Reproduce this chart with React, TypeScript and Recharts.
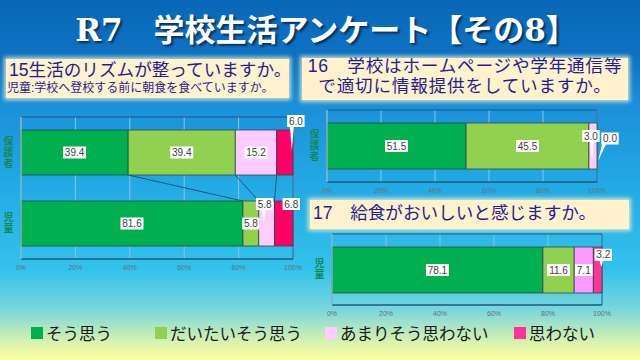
import React from 'react';
import { BarChart, Bar, XAxis, YAxis, CartesianGrid, LabelList, ReferenceArea, ReferenceDot, Customized } from 'recharts';

// ---------- data ----------
const categories15 = ['保護者', '児童'];
const soOmou15 = [39.4, 81.6];
const daitai15 = [39.4, 5.8];
const amari15 = [15.2, 5.8];
const omowanai15 = [6.0, 6.8];

const categories16 = ['保護者'];
const soOmou16 = [51.5];
const daitai16 = [45.5];
const amari16 = [3.0];
const omowanai16 = [0.0];

const categories17 = ['児童'];
const soOmou17 = [78.1];
const daitai17 = [11.6];
const amari17 = [7.1];
const omowanai17 = [3.2];

const percentTicks = [0, 20, 40, 60, 80, 100];
const legendLabels = ['そう思う', 'だいたいそう思う', 'あまりそう思わない', '思わない'];
const seriesKeys = ['s1', 's2', 's3', 's4'];

// ---------- styles ----------
const COLORS15 = ['#00b050', '#92d050', '#ffccff', '#ff0066'];
const COLORS16 = ['#00b050', '#92d050', '#ffccff', '#ff0066'];
const COLORS17 = ['#00b050', '#92d050', '#ff99ff', '#ff3399'];
const LEGEND_COLORS = ['#00b050', '#92d050', '#ffccff', '#ff3399'];
const LEGEND_X = [31, 155, 325, 514];
const FRAME = '#1d5a80';
const JP = '"Noto Sans CJK JP", "Noto Sans", sans-serif';
const BOX_FONT = '"Liberation Sans", "Noto Sans CJK JP", sans-serif';

type Place = { dx: number; dy: number; tip?: [number, number] } | undefined;

const places15: Record<string, Place[]> = {
  s3: [undefined, { dx: -2, dy: -19.5, tip: [-3, 1] }],
  s4: [{ dx: 11, dy: -31.5, tip: [7, -2] }, { dx: 7.5, dy: -19.5 }],
};
const places16: Record<string, Place[]> = {
  s3: [{ dx: -2, dy: -10, tip: [-1, 14] }],
  s4: [{ dx: 13, dy: -7.5, tip: [1, 15] }],
};
const places17: Record<string, Place[]> = {
  s4: [{ dx: 5.6, dy: -15.2, tip: [3.6, -3] }],
};

type Geo = {
  left: number; top: number; width: number; height: number;
  margin: { top: number; right: number; bottom: number; left: number };
  yAxisWidth: number; xAxisHeight: number; barSize: number;
};

const GEO15: Geo = { left: 0, top: 105, width: 310, height: 175, margin: { top: 12, right: 17, bottom: 4, left: 3 }, yAxisWidth: 18, xAxisHeight: 17, barSize: 45 };
const GEO16: Geo = { left: 305, top: 100, width: 320, height: 100, margin: { top: 10, right: 28, bottom: 2, left: 2 }, yAxisWidth: 20, xAxisHeight: 16, barSize: 46 };
const GEO17: Geo = { left: 305, top: 224, width: 325, height: 97, margin: { top: 10, right: 28, bottom: 2, left: 5 }, yAxisWidth: 22, xAxisHeight: 14, barSize: 46 };

function buildRows(cats: string[], a: number[], b: number[], c: number[], d: number[]) {
  return cats.map((name, i) => ({ name, s1: a[i], s2: b[i], s3: c[i], s4: d[i] }));
}

const rows15 = buildRows(categories15, soOmou15, daitai15, amari15, omowanai15);
const rows16 = buildRows(categories16, soOmou16, daitai16, amari16, omowanai16);
const rows17 = buildRows(categories17, soOmou17, daitai17, amari17, omowanai17);

function textWidth(s: string, fs: number) {
  let w = 0;
  for (const ch of s) w += ch === '.' ? 0.278 * fs : 0.556 * fs;
  return w;
}

function drawLabel(segCx: number, segCy: number, value: number, p: Place) {
  const text = value.toFixed(1);
  const cx = segCx + (p ? p.dx : 0);
  const cy = segCy + (p ? p.dy : 0);
  const fs = 10;
  const bw = textWidth(text, fs) + 3.5;
  const bh = 12;
  const left = cx - bw / 2;
  const bottom = cy + bh / 2;
  let tail = null;
  if (p && p.tip) {
    const tx = segCx + p.tip[0];
    const ty = segCy + p.tip[1];
    const bx = Math.min(Math.max(tx - 2, left + 1), left + bw - 5);
    tail = <polygon points={`${bx},${bottom - 1} ${bx + 4},${bottom - 1} ${tx},${ty}`} fill="#ffffff" />;
  }
  return (
    <g>
      {tail}
      <rect x={left} y={cy - bh / 2} width={bw} height={bh} fill="#ffffff" />
      <text x={cx} y={cy} dy="0.36em" textAnchor="middle" fontSize={fs} fill="#404040" fontFamily='"Liberation Sans", Arial, sans-serif'>{text}</text>
    </g>
  );
}

const makeLabel = (places?: Place[]) => (props: any) => {
  const vb = props.viewBox || {};
  const x = Number(props.x ?? vb.x);
  const y = Number(props.y ?? vb.y);
  const w = Number(props.width ?? vb.width ?? 0);
  const h = Number(props.height ?? vb.height ?? 0);
  const idx = props.index ?? 0;
  const value = Number(props.value);
  if (!isFinite(x) || !isFinite(y) || !isFinite(value)) return null;
  if (value === 0) return null; // zero values drawn with ReferenceDot
  return drawLabel(x + w / 2, y + h / 2, value, places ? places[idx] : undefined);
};

const VerticalTick = (props: any) => {
  const { x, y, payload } = props;
  const label = String(payload?.value ?? '');
  const tx = x - 12.5;
  return (
    <text
      x={tx}
      y={y}
      textAnchor="middle"
      fontSize={10}
      fontWeight="bold"
      fill="#138a55"
      fontFamily={JP}
      letterSpacing={1}
      style={{ writingMode: 'vertical-rl' } as React.CSSProperties}
    >
      {label}
    </text>
  );
};

function cumulative(vals: number[]) {
  const out: number[] = [];
  let s = 0;
  for (let i = 0; i < vals.length - 1; i++) { s += vals[i]; out.push(s); }
  return out;
}

const SeriesLines = ({ geo }: { geo: Geo }) => {
  const plotLeft = geo.margin.left + geo.yAxisWidth;
  const plotWidth = geo.width - plotLeft - geo.margin.right;
  const plotTop = geo.margin.top;
  const plotHeight = geo.height - geo.margin.top - geo.margin.bottom - geo.xAxisHeight;
  const band = plotHeight / categories15.length;
  const topBarBottom = plotTop + band / 2 + geo.barSize / 2;
  const bottomBarTop = plotTop + band * 1.5 - geo.barSize / 2;
  const xOf = (v: number) => plotLeft + (v / 100) * plotWidth;
  const topCum = cumulative([soOmou15[0], daitai15[0], amari15[0], omowanai15[0]]);
  const botCum = cumulative([soOmou15[1], daitai15[1], amari15[1], omowanai15[1]]);
  return (
    <g>
      {topCum.map((v, i) => (
        <line key={i} x1={xOf(v)} y1={topBarBottom} x2={xOf(botCum[i])} y2={bottomBarTop} stroke="#1f3f5f" strokeWidth={0.8} />
      ))}
    </g>
  );
};

function zeroLabels(rows: any[], places: Record<string, Place[]>) {
  const out: React.ReactNode[] = [];
  rows.forEach((row, ri) => {
    let cum = 0;
    seriesKeys.forEach((k) => {
      const v = Number(row[k]);
      cum += v;
      if (v === 0) {
        const p = places[k] ? places[k][ri] : undefined;
        const xPos = cum;
        out.push(
          <ReferenceDot
            key={`${k}-${ri}`}
            x={xPos}
            y={row.name}
            r={0}
            ifOverflow="visible"
            shape={(sp: any) => drawLabel(Number(sp.cx), Number(sp.cy), v, p)}
          />
        );
      }
    });
  });
  return out;
}

function StackChart({ geo, rows, colors, places, extra }: { geo: Geo; rows: any[]; colors: string[]; places: Record<string, Place[]>; extra?: React.ReactNode }) {
  return (
    <div style={{ position: 'absolute', left: geo.left, top: geo.top, width: geo.width, height: geo.height }}>
      <BarChart width={geo.width} height={geo.height} data={rows} layout="vertical" margin={geo.margin} barSize={geo.barSize}>
        <CartesianGrid horizontal={false} stroke="#7cc8f0" />
        <XAxis
          type="number"
          domain={[0, 100]}
          ticks={percentTicks}
          interval={0}
          tickFormatter={(v: number) => `${v}%`}
          tick={{ fontSize: 7, fill: '#5f7184', fontFamily: '"Liberation Sans", Arial, sans-serif' }}
          tickLine={false}
          tickSize={4}
          axisLine={{ stroke: FRAME }}
          height={geo.xAxisHeight}
        />
        <YAxis
          type="category"
          dataKey="name"
          width={geo.yAxisWidth}
          tickLine={false}
          tickSize={0}
          tickMargin={0}
          interval={0}
          axisLine={{ stroke: '#a8dcf5' }}
          tick={<VerticalTick />}
        />
        <ReferenceArea x1={0} x2={100} fill="none" fillOpacity={0} stroke={FRAME} strokeWidth={1} ifOverflow="visible" />
        {extra}
        {seriesKeys.map((k, si) => (
          <Bar key={k} dataKey={k} stackId="a" fill={colors[si]} stroke="#2a4a44" strokeWidth={0.8} isAnimationActive={false}>
            <LabelList dataKey={k} content={makeLabel(places[k])} />
          </Bar>
        ))}
        {zeroLabels(rows, places)}
      </BarChart>
    </div>
  );
}

const boxStyle: React.CSSProperties = {
  position: 'absolute',
  background: '#fff2cc',
  boxShadow: '0 0 4px 2px rgba(255, 248, 205, 0.75)',
  color: '#1f1f96',
  fontFamily: BOX_FONT,
  whiteSpace: 'nowrap',
};

export default function App() {
  return (
    <div
      style={{
        position: 'absolute',
        left: 0,
        top: 0,
        width: 640,
        height: 360,
        overflow: 'hidden',
        background:
          'linear-gradient(to bottom, #0868b8 0%, #0e72c2 16%, #1b8ed8 28%, #22a8e4 50%, #34c2ec 75%, #7ad6dc 86%, #d8f2b0 95%, #ffffa0 100%)',
        fontFamily: JP,
      }}
    >
      {/* main title */}
      <div
        style={{
          position: 'absolute',
          left: 6,
          top: 10,
          width: 640,
          textAlign: 'center',
          fontSize: 31,
          lineHeight: '40px',
          fontWeight: 'bold',
          color: '#ffffff',
          fontFamily: '"DejaVu Serif", "Noto Sans CJK JP", serif',
          textShadow: '2px 2px 2px #0b2f5a',
          whiteSpace: 'nowrap',
        }}
      >
        R7　学校生活アンケート【その8】
      </div>

      {/* Q15 title */}
      <div style={{ ...boxStyle, left: 6, top: 59, width: 283, height: 39 }}>
        <div style={{ position: 'absolute', left: 3, top: 0, fontSize: 17.6, lineHeight: '23px' }}>15生活のリズムが整っていますか。</div>
        <div style={{ position: 'absolute', left: 1, top: 21.5, fontSize: 12, lineHeight: '15px' }}>児童:学校へ登校する前に朝食を食べていますか。</div>
      </div>

      {/* Q16 title */}
      <div style={{ ...boxStyle, left: 302, top: 58, width: 326, height: 42 }}>
        <div style={{ position: 'absolute', left: 0, top: -1, width: 326, textAlign: 'center', fontSize: 17.6, letterSpacing: 0.8, lineHeight: '19.6px' }}>
          16　学校はホームページや学年通信等<br />で適切に情報提供をしていますか。
        </div>
      </div>

      {/* Q17 title */}
      <div style={{ ...boxStyle, left: 310, top: 200, width: 319, height: 29 }}>
        <div style={{ position: 'absolute', left: 3, top: 1, fontSize: 17.6, lineHeight: '24px' }}>17　給食がおいしいと感じますか。</div>
      </div>

      <StackChart
        geo={GEO15}
        rows={rows15}
        colors={COLORS15}
        places={places15}
        extra={<Customized component={<SeriesLines geo={GEO15} />} />}
      />
      <StackChart geo={GEO16} rows={rows16} colors={COLORS16} places={places16} />
      <StackChart geo={GEO17} rows={rows17} colors={COLORS17} places={places17} />

      {/* legend */}
      {legendLabels.map((label, i) => (
        <div
          key={label}
          style={{
            position: 'absolute',
            left: LEGEND_X[i],
            top: 322,
            height: 22,
            display: 'flex',
            alignItems: 'center',
            fontSize: 16.5,
            color: '#1a1a1a',
            whiteSpace: 'nowrap',
          }}
        >
          <span style={{ display: 'inline-block', width: 12, height: 12, background: LEGEND_COLORS[i], marginRight: 3 }} />
          {label}
        </div>
      ))}
    </div>
  );
}
